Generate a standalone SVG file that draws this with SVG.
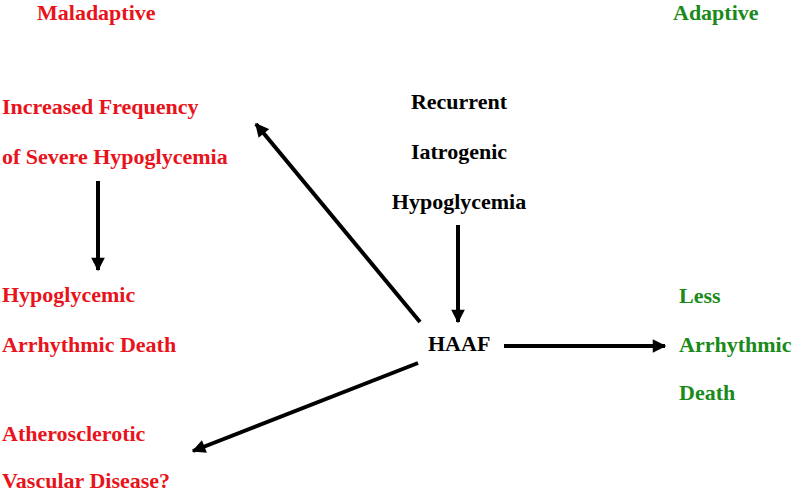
<svg xmlns="http://www.w3.org/2000/svg" width="794" height="493" viewBox="0 0 794 493">
<style>
text{font-family:"Liberation Serif","Times New Roman",serif;font-weight:bold;font-size:22px}
.r{fill:#e8131b}.g{fill:#1a8a1a}.k{fill:#000}
.c line{stroke:#000;stroke-width:4}
</style>
<defs>
<marker id="ah" viewBox="0 0 10 10" refX="9" refY="5" markerWidth="3.6" markerHeight="3.4" orient="auto" markerUnits="strokeWidth">
<path d="M0,0 L10,5 L0,10 Z" fill="#000"/>
</marker>
</defs>
<rect width="794" height="493" fill="#fff"/>
<g id="maladaptive"><text class="r" x="37" y="20">Maladaptive</text></g>
<g id="adaptive"><text class="g" x="673" y="20">Adaptive</text></g>
<g id="increased"><text class="r" x="2" y="114">Increased Frequency</text><text class="r" x="2" y="164">of Severe Hypoglycemia</text></g>
<g id="recurrent"><text class="k" x="459" y="109" text-anchor="middle">Recurrent</text><text class="k" x="459" y="159" text-anchor="middle">Iatrogenic</text><text class="k" x="459" y="209" text-anchor="middle">Hypoglycemia</text></g>
<g id="death"><text class="r" x="2" y="302">Hypoglycemic</text><text class="r" x="2" y="352">Arrhythmic Death</text></g>
<g id="athero"><text class="r" x="2" y="441">Atherosclerotic</text><text class="r" x="2" y="488">Vascular Disease?</text></g>
<g id="haaf"><text class="k" x="428" y="351">HAAF</text></g>
<g id="less"><text class="g" x="679" y="303">Less</text><text class="g" x="679" y="352">Arrhythmic</text><text class="g" x="679" y="400">Death</text></g>
<g id="connectors" class="c">
<line x1="98" y1="181" x2="98" y2="270" marker-end="url(#ah)"/>
<line x1="458" y1="225" x2="458" y2="322" marker-end="url(#ah)"/>
<line x1="420" y1="322" x2="256" y2="124" marker-end="url(#ah)"/>
<line x1="504" y1="346" x2="665" y2="346" marker-end="url(#ah)"/>
<line x1="418" y1="363" x2="193" y2="451" marker-end="url(#ah)"/>
</g>
</svg>
